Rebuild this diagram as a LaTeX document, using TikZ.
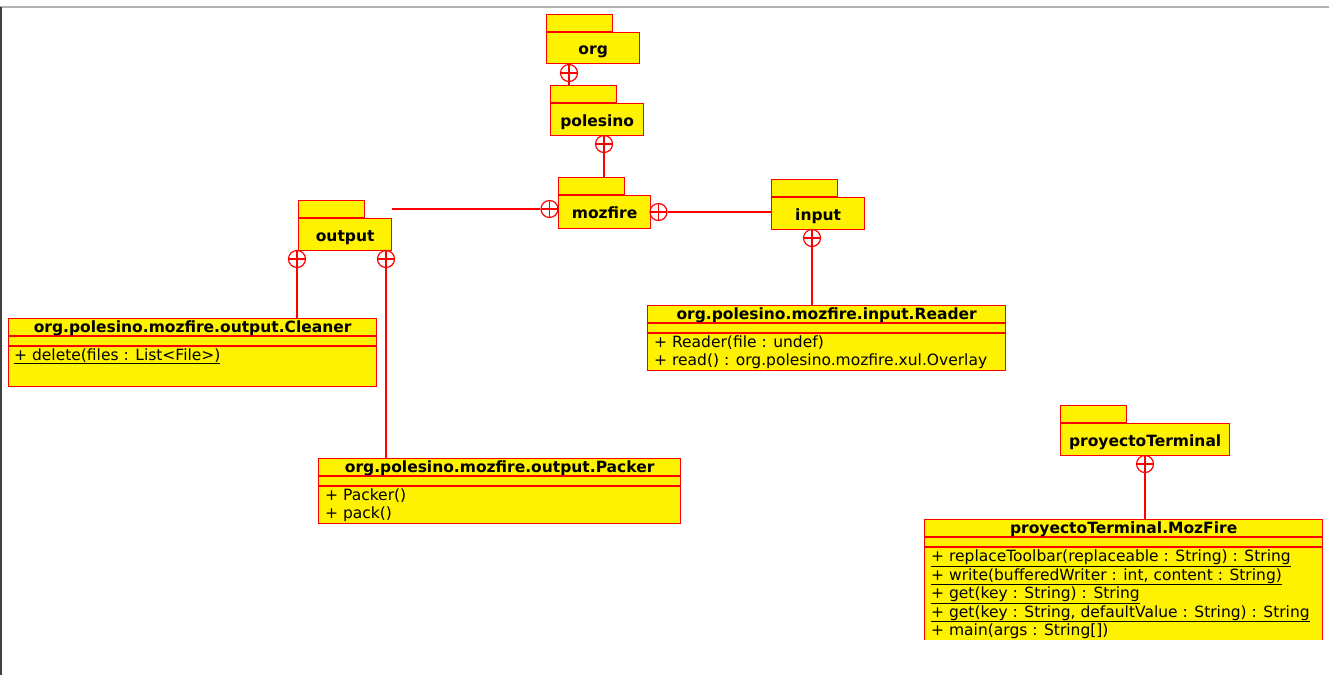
\documentclass[tikz,border=0pt]{standalone}
\usepackage{fontspec}
\setmainfont{DejaVu Sans}
\newcommand\umlfont{\fontsize{15.5pt}{18.5pt}\selectfont}
\begin{document}
\begin{tikzpicture}[x=1pt,y=-1pt,
  pkg/.style={draw=red, fill=yellow, line width=1.3pt, inner sep=0pt, font=\umlfont\bfseries, text height=15pt, text depth=2pt, anchor=north west},
  tab/.style={draw=red, fill=yellow, line width=1.3pt, inner sep=0pt, minimum width=66pt, minimum height=17pt, anchor=south west},
  cls/.style={draw=red, fill=yellow, line width=1.3pt, inner sep=0pt, anchor=north west},
  sep/.style={draw=red, line width=1.3pt},
  ttl/.style={font=\umlfont\bfseries, inner sep=0pt, anchor=base},
  op/.style={font=\umlfont, inner sep=0pt, anchor=base west},
  conn/.style={draw=red, line width=1.3pt},
  cont/.style={circle, draw=red, fill=white, line width=1.2pt, minimum size=17pt, inner sep=0pt,
    path picture={\draw[red, line width=1.2pt] (path picture bounding box.north) -- (path picture bounding box.south) (path picture bounding box.west) -- (path picture bounding box.east);}}
]
\useasboundingbox (0,0) rectangle (1329,675);
% frame lines
\draw[gray!60, line width=1.5pt] (0,7) -- (1329,7);
\draw[black!75, line width=1.8pt] (0.9,7) -- (0.9,675);

% packages
\node[pkg, minimum width=93pt, minimum height=31pt] (org) at (546,32) {org};
\node[tab] (orgtab) at (org.north west) {};
\node[pkg, minimum width=93pt, minimum height=32pt] (polesino) at (550,103) {polesino};
\node[tab] (poltab) at (polesino.north west) {};
\node[pkg, minimum width=92pt, minimum height=33pt] (mozfire) at (558,195) {mozfire};
\node[tab] (moztab) at (mozfire.north west) {};
\node[pkg, minimum width=93pt, minimum height=32pt] (output) at (298,218) {output};
\node[tab] (outtab) at (output.north west) {};
\node[pkg, minimum width=93pt, minimum height=32pt] (input) at (771,197) {input};
\node[tab] (intab) at (input.north west) {};
\node[pkg, minimum width=169pt, minimum height=32pt] (proy) at (1060,423) {proyectoTerminal};
\node[tab] (proytab) at (proy.north west) {};

% Cleaner
\node[cls, minimum width=368pt, minimum height=68pt] (cleaner) at (8,318) {};
\draw[sep] ([yshift=-18pt]cleaner.north west) -- ([yshift=-18pt]cleaner.north east)
           ([yshift=-28pt]cleaner.north west) -- ([yshift=-28pt]cleaner.north east);
\node[ttl] (cleanertitle) at ([yshift=-14pt]cleaner.north) {org.polesino.mozfire.output.Cleaner};
\node[op] (cleanerop1) at ([xshift=6pt,yshift=-42pt]cleaner.north west) {\underline{+ delete(files : List<File>)}};

% Reader
\node[cls, minimum width=358pt, minimum height=65pt] (reader) at (647,305) {};
\draw[sep] ([yshift=-18pt]reader.north west) -- ([yshift=-18pt]reader.north east)
           ([yshift=-28pt]reader.north west) -- ([yshift=-28pt]reader.north east);
\node[ttl] (readertitle) at ([yshift=-14pt]reader.north) {org.polesino.mozfire.input.Reader};
\node[op] (readerop1) at ([xshift=7pt,yshift=-42pt]reader.north west) {+ Reader(file : undef)};
\node[op] (readerop2) at ([xshift=7pt,yshift=-60pt]reader.north west) {+ read() : org.polesino.mozfire.xul.Overlay};

% Packer
\node[cls, minimum width=362pt, minimum height=65pt] (packer) at (318,458) {};
\draw[sep] ([yshift=-18pt]packer.north west) -- ([yshift=-18pt]packer.north east)
           ([yshift=-28pt]packer.north west) -- ([yshift=-28pt]packer.north east);
\node[ttl] (packertitle) at ([yshift=-14pt]packer.north) {org.polesino.mozfire.output.Packer};
\node[op] (packerop1) at ([xshift=7pt,yshift=-42pt]packer.north west) {+ Packer()};
\node[op] (packerop2) at ([xshift=7pt,yshift=-60pt]packer.north west) {+ pack()};

% MozFire (cut off)
\begin{scope}
\clip (0,0) rectangle (1323,639);
\node[cls, minimum width=398pt, minimum height=150pt] (mozclass) at (924,519) {};
\draw[sep] ([yshift=-18pt]mozclass.north west) -- ([yshift=-18pt]mozclass.north east)
           ([yshift=-28pt]mozclass.north west) -- ([yshift=-28pt]mozclass.north east);
\node[ttl] (moztitle) at ([yshift=-14pt]mozclass.north) {proyectoTerminal.MozFire};
\node[op] (mozop1) at ([xshift=7pt,yshift=-42.5pt]mozclass.north west) {\underline{+ replaceToolbar(replaceable : String) : String}};
\node[op] (mozop2) at ([xshift=7pt,yshift=-61pt]mozclass.north west) {\underline{+ write(bufferedWriter : int, content : String)}};
\node[op] (mozop3) at ([xshift=7pt,yshift=-79.5pt]mozclass.north west) {\underline{+ get(key : String) : String}};
\node[op] (mozop4) at ([xshift=7pt,yshift=-98pt]mozclass.north west) {\underline{+ get(key : String, defaultValue : String) : String}};
\node[op] (mozop5) at ([xshift=7pt,yshift=-116.5pt]mozclass.north west) {\underline{+ main(args : String[])}};
\end{scope}

% containment connectors
\node[cont] (c1) at (569,73) {};
\draw[conn] (c1) -- (c1 |- poltab.north);
\node[cont] (c2) at (604,144) {};
\draw[conn] (c2) -- (c2 |- moztab.north);
\node[cont] (c3) at (549.5,209) {};
\coordinate (outend) at (c3 -| output.east);
\draw[conn] (c3) -- (outend);
\node[cont] (c4) at (658.5,212) {};
\draw[conn] (c4) -- (c4 -| input.west);
\node[cont] (c5) at (297,259) {};
\draw[conn] (c5) -- (c5 |- cleaner.north);
\node[cont] (c6) at (386,259) {};
\draw[conn] (c6) -- (c6 |- packer.north);
\node[cont] (c7) at (812,238) {};
\draw[conn] (c7) -- (c7 |- reader.north);
\node[cont] (c8) at (1145,464) {};
\draw[conn] (c8) -- (c8 |- mozclass.north);
\end{tikzpicture}
\end{document}
